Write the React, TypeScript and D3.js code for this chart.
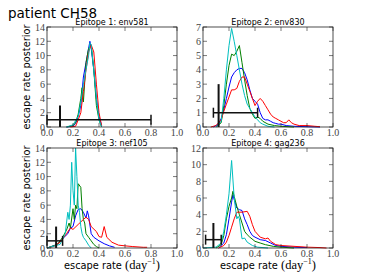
import React, { useEffect, useRef } from "react";
import * as d3 from "d3";

type Pt = [number, number];

const titles = ["Epitope 1: env581", "Epitope 2: env830", "Epitope 3: nef105", "Epitope 4: gag236"];
const yMaxes = [14, 7, 14, 12];
const yTickSteps = [2, 1, 2, 2];
const xTicks = [0, 0.2, 0.4, 0.6, 0.8, 1.0];

// black error cross per panel: horizontal bar at y=1 from lo to hi, vertical line at mid from 0 to 3
const errLo = [0.0, 0.08, 0.0, 0.02];
const errHi = [0.8, 0.42, 0.12, 0.14];
const errMid = [0.1, 0.12, 0.07, 0.08];

const colors = ["#0000ff", "#008000", "#ff0000", "#00bfbf"]; // blue, green, red, cyan

// Epitope 1
const ep1Blue: Pt[] = [[0.15, 0], [0.2, 0.1], [0.22, 0.5], [0.24, 1.5], [0.26, 3], [0.28, 7], [0.3, 9], [0.32, 11], [0.33, 12], [0.34, 11], [0.36, 8], [0.37, 6], [0.38, 4], [0.4, 1.5], [0.42, 0.2]];
const ep1Green: Pt[] = [[0.15, 0], [0.2, 0.2], [0.22, 0.6], [0.24, 1.8], [0.26, 4], [0.27, 5.5], [0.28, 3.5], [0.3, 9], [0.32, 11], [0.34, 11.5], [0.36, 8], [0.38, 3], [0.4, 1], [0.42, 0]];
const ep1Red: Pt[] = [[0.18, 0], [0.22, 0.1], [0.24, 1], [0.26, 2], [0.28, 5], [0.3, 8], [0.32, 10.5], [0.34, 11.5], [0.36, 10.5], [0.38, 6], [0.4, 2], [0.42, 0.2]];
const ep1Cyan: Pt[] = [[0.15, 0], [0.2, 0.3], [0.24, 1.5], [0.26, 3.5], [0.28, 6], [0.3, 8], [0.32, 10], [0.33, 11.8], [0.34, 11.5], [0.36, 8], [0.38, 4], [0.4, 1], [0.42, 0]];

// Epitope 2
const ep2Blue: Pt[] = [[0.08, 0], [0.12, 0.2], [0.14, 0.6], [0.16, 1.2], [0.18, 2], [0.2, 2.8], [0.22, 3.5], [0.24, 3.8], [0.26, 4.0], [0.28, 4.1], [0.3, 4.1], [0.32, 3.8], [0.34, 3.3], [0.36, 2.6], [0.38, 2.0], [0.4, 1.8], [0.42, 1.6], [0.44, 1.0], [0.46, 0.6], [0.48, 0.5], [0.5, 0.5], [0.52, 0.4], [0.54, 0.3], [0.56, 0.25], [0.58, 0.2], [0.6, 0.2], [0.64, 0.1], [0.7, 0.05], [0.8, 0.02], [0.9, 0]];
const ep2Green: Pt[] = [[0.1, 0], [0.14, 0.3], [0.16, 1.5], [0.18, 3], [0.2, 4.3], [0.22, 5.1], [0.24, 5.0], [0.26, 5.3], [0.28, 5.7], [0.3, 4.5], [0.32, 3.3], [0.34, 2.2], [0.36, 1.3], [0.38, 0.9], [0.4, 0.6], [0.42, 0.7], [0.44, 0.6], [0.46, 0.4], [0.5, 0.2], [0.55, 0.1], [0.6, 0.05], [0.7, 0]];
const ep2Red: Pt[] = [[0.06, 0], [0.1, 0.1], [0.14, 0.5], [0.16, 1.1], [0.18, 1.6], [0.2, 2.1], [0.22, 2.6], [0.24, 2.6], [0.26, 2.7], [0.28, 3.2], [0.3, 3.5], [0.32, 3.5], [0.34, 3.0], [0.36, 2.5], [0.38, 2.0], [0.4, 1.5], [0.42, 1.8], [0.44, 2.0], [0.46, 1.8], [0.48, 1.5], [0.5, 1.2], [0.52, 0.9], [0.54, 0.7], [0.56, 0.6], [0.58, 0.5], [0.6, 0.4], [0.62, 0.3], [0.64, 0.3], [0.66, 0.5], [0.68, 0.3], [0.7, 0.2], [0.74, 0.1], [0.8, 0.1], [0.86, 0.05], [0.9, 0.02]];
const ep2Cyan: Pt[] = [[0.1, 0], [0.14, 0.4], [0.16, 2], [0.18, 4], [0.2, 5.7], [0.22, 6.9], [0.24, 6], [0.26, 5], [0.28, 4], [0.3, 3], [0.32, 2.2], [0.34, 1.6], [0.36, 1.3], [0.38, 1], [0.4, 0.7], [0.42, 0.5], [0.44, 0.3], [0.46, 0.2], [0.5, 0.05], [0.55, 0]];

// Epitope 3
const ep3Blue: Pt[] = [[0.0, 0], [0.08, 0.5], [0.12, 1.3], [0.16, 2], [0.18, 2.8], [0.2, 3], [0.22, 4.5], [0.24, 5.4], [0.26, 5.5], [0.28, 5], [0.3, 4.2], [0.31, 5.2], [0.32, 4.5], [0.34, 2], [0.36, 1.5], [0.4, 1.0], [0.44, 0.6], [0.48, 0.3], [0.52, 0.1]];
const ep3Green: Pt[] = [[0.0, 0], [0.08, 0.5], [0.12, 1.5], [0.15, 2.5], [0.17, 3.5], [0.18, 2.8], [0.2, 5.5], [0.21, 4], [0.22, 6], [0.23, 5.5], [0.24, 9], [0.26, 8.5], [0.27, 5.5], [0.28, 4], [0.29, 3.5], [0.3, 2], [0.32, 1.5], [0.34, 1], [0.36, 0.5], [0.38, 0.2], [0.4, 0]];
const ep3Red: Pt[] = [[0.0, 0], [0.05, 0.2], [0.1, 0.8], [0.15, 2], [0.18, 2.8], [0.2, 2.6], [0.24, 3.3], [0.28, 4], [0.3, 4.3], [0.32, 4], [0.34, 3], [0.38, 2.3], [0.4, 1.6], [0.42, 1.5], [0.44, 3.0], [0.46, 1.5], [0.5, 0.8], [0.55, 0.4], [0.6, 0.3], [0.66, 0.2], [0.74, 0.1], [0.77, 0.1]];
const ep3Cyan: Pt[] = [[0.0, 0], [0.1, 0.5], [0.14, 2], [0.16, 5], [0.17, 4], [0.18, 6], [0.19, 12], [0.2, 8], [0.21, 6], [0.22, 14], [0.23, 10], [0.24, 6], [0.25, 5], [0.26, 3], [0.27, 2], [0.28, 1.5], [0.3, 1], [0.32, 0.4], [0.34, 0]];

// Epitope 4
const ep4Blue: Pt[] = [[0.12, 0], [0.16, 0.6], [0.18, 1.6], [0.2, 3.5], [0.22, 5.5], [0.23, 6.4], [0.24, 5.8], [0.26, 4.8], [0.28, 4.6], [0.3, 4.5], [0.32, 3.5], [0.34, 2.8], [0.36, 2], [0.38, 1.5], [0.4, 1.3], [0.44, 1], [0.48, 0.9], [0.52, 0.6], [0.56, 0.3], [0.6, 0.2], [0.7, 0.1], [0.8, 0.05]];
const ep4Green: Pt[] = [[0.1, 0], [0.14, 0.4], [0.16, 1.5], [0.18, 3.5], [0.2, 5], [0.22, 6], [0.23, 6.8], [0.24, 6.2], [0.26, 5], [0.28, 4], [0.3, 3], [0.32, 2], [0.34, 1.6], [0.36, 1.3], [0.4, 0.8], [0.44, 0.6], [0.48, 0.4], [0.54, 0.2], [0.6, 0.1], [0.7, 0]];
const ep4Red: Pt[] = [[0.12, 0], [0.16, 0.3], [0.18, 0.7], [0.2, 1.5], [0.22, 2.5], [0.24, 3.5], [0.26, 4.3], [0.3, 4.3], [0.34, 4.4], [0.36, 3.8], [0.38, 2.8], [0.4, 2.0], [0.44, 1.3], [0.48, 1.1], [0.5, 1.2], [0.52, 0.8], [0.56, 0.4], [0.6, 0.3], [0.7, 0.2], [0.8, 0.1], [0.9, 0.05], [0.95, 0]];
const ep4Cyan: Pt[] = [[0.0, 0], [0.1, 0.1], [0.14, 0.6], [0.16, 2], [0.18, 4], [0.2, 6.5], [0.22, 10.5], [0.24, 6], [0.26, 3.5], [0.27, 3.8], [0.28, 3.5], [0.3, 1.1], [0.32, 1.2], [0.34, 0.7], [0.38, 0.3], [0.42, 0.1], [0.5, 0]];

const panelSeries: Pt[][][] = [
  [ep1Blue, ep1Green, ep1Red, ep1Cyan],
  [ep2Blue, ep2Green, ep2Red, ep2Cyan],
  [ep3Blue, ep3Green, ep3Red, ep3Cyan],
  [ep4Blue, ep4Green, ep4Red, ep4Cyan],
];

const App = () => {
  const ref = useRef<SVGSVGElement>(null);

  useEffect(() => {
    const svg = d3.select(ref.current);
    svg.selectAll("*").remove();

    const colLeft = [47, 203];
    const rowTop = [27, 148];
    const pw = 130;
    const ph = 100;
    const tickFont = "'Liberation Serif', serif";
    const sans = "'DejaVu Sans', sans-serif";

    svg.append("text")
      .attr("x", 8).attr("y", 17.5)
      .attr("font-family", sans).attr("font-size", 13.5)
      .text("patient CH58");

    panelSeries.forEach((series, i) => {
      const left = colLeft[i % 2];
      const top = rowTop[Math.floor(i / 2)];
      const x = d3.scaleLinear().domain([0, 1]).range([0, pw]);
      const y = d3.scaleLinear().domain([0, yMaxes[i]]).range([ph, 0]);
      const g = svg.append("g").attr("transform", `translate(${left},${top})`);

      const line = d3.line<Pt>().x((d) => x(d[0])).y((d) => y(d[1]));
      series.forEach((s, k) => {
        g.append("path")
          .attr("d", line(s))
          .attr("fill", "none")
          .attr("stroke", colors[k])
          .attr("stroke-width", 1);
      });

      // error cross
      const cap = 5;
      g.append("line")
        .attr("x1", x(errLo[i])).attr("x2", x(errHi[i]))
        .attr("y1", y(1)).attr("y2", y(1))
        .attr("stroke", "#111").attr("stroke-width", 1.5);
      [errLo[i], errHi[i]].forEach((v) => {
        g.append("line")
          .attr("x1", x(v)).attr("x2", x(v))
          .attr("y1", y(1) - cap).attr("y2", y(1) + cap)
          .attr("stroke", "#111").attr("stroke-width", 1.5);
      });
      g.append("line")
        .attr("x1", x(errMid[i])).attr("x2", x(errMid[i]))
        .attr("y1", y(0)).attr("y2", y(3))
        .attr("stroke", "#111").attr("stroke-width", 2);

      // frame
      g.append("rect")
        .attr("width", pw).attr("height", ph)
        .attr("fill", "none").attr("stroke", "#222").attr("stroke-width", 0.8);

      // ticks (inward, all sides)
      const yTicks = d3.range(0, yMaxes[i] + 0.001, yTickSteps[i]);
      const tl = 4;
      xTicks.forEach((t) => {
        g.append("line").attr("x1", x(t)).attr("x2", x(t)).attr("y1", ph).attr("y2", ph - tl)
          .attr("stroke", "#222").attr("stroke-width", 0.6);
        g.append("line").attr("x1", x(t)).attr("x2", x(t)).attr("y1", 0).attr("y2", tl)
          .attr("stroke", "#222").attr("stroke-width", 0.6);
        g.append("text")
          .attr("x", x(t)).attr("y", ph + 9)
          .attr("text-anchor", "middle")
          .attr("font-family", tickFont).attr("font-size", 10).attr("fill", "#444")
          .text(d3.format(".1f")(t));
      });
      yTicks.forEach((t) => {
        g.append("line").attr("x1", 0).attr("x2", tl).attr("y1", y(t)).attr("y2", y(t))
          .attr("stroke", "#222").attr("stroke-width", 0.6);
        g.append("line").attr("x1", pw).attr("x2", pw - tl).attr("y1", y(t)).attr("y2", y(t))
          .attr("stroke", "#222").attr("stroke-width", 0.6);
        g.append("text")
          .attr("x", -2).attr("y", y(t) + 3.5)
          .attr("text-anchor", "end")
          .attr("font-family", tickFont).attr("font-size", 10).attr("fill", "#444")
          .text(String(t));
      });

      g.append("text")
        .attr("x", pw / 2).attr("y", -2)
        .attr("text-anchor", "middle")
        .attr("font-family", sans).attr("font-size", 8)
        .text(titles[i]);

      if (i % 2 === 0) {
        g.append("text")
          .attr("transform", `translate(${-17},${ph / 2}) rotate(-90)`)
          .attr("text-anchor", "middle")
          .attr("font-family", sans).attr("font-size", 9.8)
          .text("escape rate posterior");
      }

      if (i >= 2) {
        const t = g.append("text")
          .attr("x", pw / 2).attr("y", ph + 21)
          .attr("text-anchor", "middle")
          .attr("font-family", sans).attr("font-size", 9.8);
        t.append("tspan").text("escape rate ");
        t.append("tspan").attr("font-family", tickFont).attr("font-size", 12.5).text("(day");
        t.append("tspan").attr("font-family", tickFont).attr("font-size", 8).attr("dy", -5).text("\u22121");
        t.append("tspan").attr("font-family", tickFont).attr("font-size", 12.5).attr("dy", 5).text(")");
      }
    });
  }, []);

  return (
    <div style={{ position: "absolute", left: 0, top: 0 }}>
      <svg ref={ref} width={370} height={277} style={{ display: "block", background: "#fff" }}></svg>
    </div>
  );
};

export default App;
